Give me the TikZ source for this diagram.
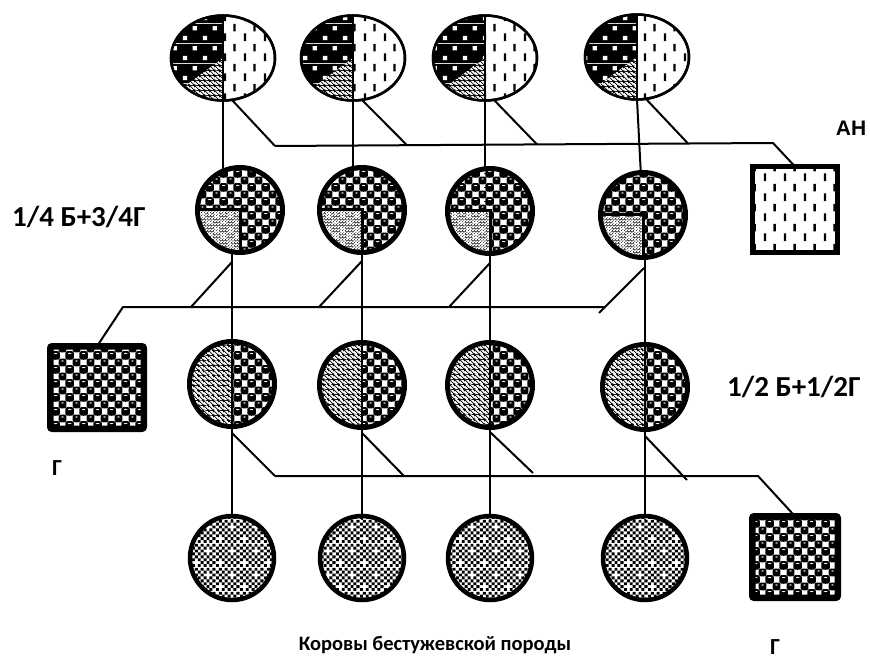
\documentclass[tikz,border=0pt]{standalone}
\usepackage{fontspec}
\setmainfont{Carlito}
\newfontfamily\anfont{Liberation Sans}
\usetikzlibrary{patterns.meta,shapes.geometric,calc}
\pgfdeclarelayer{bg}
\pgfsetlayers{bg,main}

% black ground with small white squares
\tikzdeclarepattern{
  name=sqdots, type=colored,
  bottom left={(0pt,0pt)}, top right={(20pt,20pt)}, tile size={(20pt,20pt)},
  code={
    \fill[black] (0pt,0pt) rectangle (20pt,20pt);
    \fill[white] (3pt,3pt) rectangle (7.5pt,7.5pt);
    \fill[white] (13pt,13pt) rectangle (17.5pt,17.5pt);
  }
}
% white ground with staggered vertical dashes
\tikzdeclarepattern{
  name=vdash, type=colored,
  bottom left={(0pt,0pt)}, top right={(20pt,20pt)}, tile size={(20pt,20pt)},
  code={
    \fill[white] (0pt,0pt) rectangle (20pt,20pt);
    \fill[black] (4pt,2pt) rectangle (6.4pt,10pt);
    \fill[black] (14pt,12pt) rectangle (16.4pt,20pt);
  }
}
% checker of shiny black balls
\tikzdeclarepattern{
  name=balls, type=colored,
  bottom left={(0pt,0pt)}, top right={(14pt,14pt)}, tile size={(14pt,14pt)},
  code={
    \fill[white] (0pt,0pt) rectangle (14pt,14pt);
    \foreach \cx/\cy in {0/0,14/0,0/14,14/14,7/7}{
      \fill[black, rounded corners=2.2pt] (\cx pt-4.1pt,\cy pt-4.1pt) rectangle (\cx pt+4.1pt,\cy pt+4.1pt);
      \fill[white] (\cx pt,\cy pt+1.5pt) ellipse[x radius=1.6pt, y radius=0.65pt];
    }
  }
}
% fine stipple
\tikzdeclarepattern{
  name=fdots, type=colored,
  bottom left={(0pt,0pt)}, top right={(3pt,3pt)}, tile size={(3pt,3pt)},
  code={
    \fill[white] (0pt,0pt) rectangle (3pt,3pt);
    \fill[black] (0.75pt,0.75pt) circle[radius=0.6pt];
    \fill[black] (2.25pt,2.25pt) circle[radius=0.6pt];
  }
}
% thin north west hatching on white
\tikzdeclarepattern{
  name=nwhatch, type=colored,
  bottom left={(0pt,0pt)}, top right={(4.5pt,4.5pt)}, tile size={(4.5pt,4.5pt)},
  code={
    \fill[white] (0pt,0pt) rectangle (4.5pt,4.5pt);
    \draw[black,line width=0.9pt] (-1pt,1pt) -- (1pt,-1pt);
    \draw[black,line width=0.9pt] (-1pt,5.5pt) -- (5.5pt,-1pt);
    \draw[black,line width=0.9pt] (3.5pt,5.5pt) -- (5.5pt,3.5pt);
  }
}
% fine checkerboard with small white spots
\tikzdeclarepattern{
  name=fchk, type=colored,
  bottom left={(0pt,0pt)}, top right={(24pt,24pt)}, tile size={(24pt,24pt)},
  code={
    \fill[white] (0pt,0pt) rectangle (24pt,24pt);
    \begin{scope}[x=3pt,y=3pt]
      \foreach \i in {0,...,7}{
        \foreach \j in {0,...,7}{
          \pgfmathtruncatemacro\cellS{mod(\i+\j,2)}
          \pgfmathtruncatemacro\cellQ{((\i==1)&&(\j==1))||((\i==5)&&(\j==5))}
          \ifnum\cellS=0 \ifnum\cellQ=0 \fill[black] (\i,\j) rectangle ++(1,1); \fi\fi
        }
      }
    \end{scope}
  }
}

\begin{document}
\begin{tikzpicture}[x=1pt,y=1pt,
  link/.style={line width=2pt},
  parent/.style={ellipse, draw, line width=2.5pt, minimum width=104pt, minimum height=85pt,
    inner sep=0pt, outer sep=0pt, pattern=vdash},
  cow/.style={circle, draw, line width=5pt, minimum size=85pt, inner sep=0pt, outer sep=0pt, pattern=balls},
  cowlow/.style={circle, draw, line width=4.5pt, minimum size=84pt, inner sep=0pt, outer sep=0pt, pattern=fchk},
  bull/.style={rectangle, draw, inner sep=0pt, outer sep=0pt},
  lab/.style={font=\bfseries\fontsize{29}{29}\selectfont, inner sep=0pt},
  smlab/.style={font=\bfseries\fontsize{23}{23}\selectfont, inner sep=0pt},
  caption/.style={font=\bfseries\fontsize{20.5}{20.5}\selectfont, inner sep=0pt},
]
\useasboundingbox (0,-663) rectangle (870,0);
\begin{pgfonlayer}{bg}
  \fill[white] (0,-663) rectangle (870,0);
\end{pgfonlayer}

% ---- parents, first row
\foreach \n/\x/\y in {1/223/58, 2/353/58, 3/485/58, 4/637/57}
  \node[parent] (t\n) at (\x,-\y) {};
\foreach \n in {1,...,4}{
  \fill[pattern=sqdots] (t\n.center) ++(0,42.5) arc[start angle=90, end angle=270, x radius=52, y radius=42.5] -- cycle;
  \fill[pattern=nwhatch] (t\n.center) -- ++(222:52 and 42.5) arc[start angle=222, end angle=270, x radius=52, y radius=42.5] -- cycle;
  \draw[line width=2.5pt] (t\n.center) ellipse[x radius=52, y radius=42.5];
  \draw[link] (t\n.north) -- (t\n.south);
}

% ---- second row: 1/4 + 3/4
\foreach \n/\x/\y in {1/240/210, 2/362/210, 3/490/211, 4/643/215}
  \node[cow] (m\n) at (\x,-\y) {};
\foreach \n in {1,...,4}{
  \fill[pattern=fdots] (m\n.center) -- ++(-40,0) arc[start angle=180, end angle=270, radius=40] -- cycle;
  \draw[line width=3pt] (m\n.center) ++(-40,0) -- (m\n.center) -- ++(0,-40);
}

% ---- third row: 1/2 + 1/2
\foreach \n/\x/\y in {1/232/384, 2/362/385, 3/490/385, 4/645/387}
  \node[cow] (h\n) at (\x,-\y) {};
\foreach \n in {1,...,4}{
  \fill[pattern=nwhatch] (h\n.center) ++(0,40) arc[start angle=90, end angle=270, radius=40] -- cycle;
  \draw[link] (h\n.north) -- (h\n.south);
}

% ---- fourth row
\foreach \n/\x in {1/232, 2/362, 3/490, 4/645}
  \node[cowlow] (b\n) at (\x,-558) {};

% ---- sires
\node[bull, line width=5pt, minimum width=85pt, minimum height=86pt, pattern=vdash] (an) at (795,-209.5) {};
\node[bull, line width=6.5pt, minimum width=93.5pt, minimum height=82.5pt, rounded corners=2pt, pattern=balls] (g1) at (97,-387.5) {};
\node[bull, line width=6.5pt, minimum width=85.5pt, minimum height=81.5pt, rounded corners=2pt, pattern=balls] (g2) at (795,-557) {};

% ---- junction points
\coordinate (j1) at (275,-146);
\coordinate (j2) at (407,-145.2);
\coordinate (j3) at (537,-144.4);
\coordinate (j4) at (688,-143.5);
\coordinate (e1) at (773,-143);
\coordinate (f1) at (232,-262);
\coordinate (f2) at (362,-261);
\coordinate (f3) at (490,-263);
\coordinate (f4) at (644,-268);
\coordinate (k1) at (191,-307);
\coordinate (k2) at (319,-307);
\coordinate (k3) at (449,-307);
\coordinate (k4) at (599,-313);
\coordinate (bl) at (123,-307);
\coordinate (br) at (604,-307);
\coordinate (q1) at (232,-433);
\coordinate (q2) at (362,-433);
\coordinate (q3) at (490,-432);
\coordinate (q4) at (645,-436);
\coordinate (p1) at (275,-476);
\coordinate (p2) at (404,-476);
\coordinate (p3) at (533,-473);
\coordinate (p4) at (687,-480);
\coordinate (e3) at (758,-476);

\begin{pgfonlayer}{bg}
  % first to second row
  \foreach \n in {1,2,3}
    \draw[link] (t\n.south) -- (t\n.south |- m\n.center);
  \draw[link] (t4.south) -- (m4.center);
  \foreach \n in {1,...,4}
    \draw[link] (t\n.-78) -- (j\n);
  \draw[link] (j1) -- (e1) -- (an.north);
  % second to third row
  \foreach \n in {1,...,4}
    \draw[link] (h\n.center |- m\n.center) -- (h\n.center);
  \foreach \n in {1,...,4}
    \draw[link] (f\n) -- (k\n);
  \draw[link] (g1.north) -- (bl) -- (br);
  % third to fourth row
  \foreach \n in {1,...,4}
    \draw[link] (h\n.center) -- (b\n.center);
  \foreach \n in {1,...,4}
    \draw[link] (q\n) -- (p\n);
  \draw[link] (p1) -- (e3) -- (g2.north);
\end{pgfonlayer}

% ---- labels
\node[lab, anchor=west] (lq) at (12,-217) {1/4 Б+3/4Г};
\node[lab, anchor=west] (lh) at (727,-387) {1/2 Б+1/2Г};
\node[smlab] (lg1) at (57,-468) {Г};
\node[smlab] (lg2) at (775,-647) {Г};
\node[caption] (lc) at (435,-645) {Коровы бестужевской породы};
\node[font=\anfont\bfseries\fontsize{21}{21}\selectfont, inner sep=0pt] (lan) at (851,-128) {АН};
\end{tikzpicture}
\end{document}
